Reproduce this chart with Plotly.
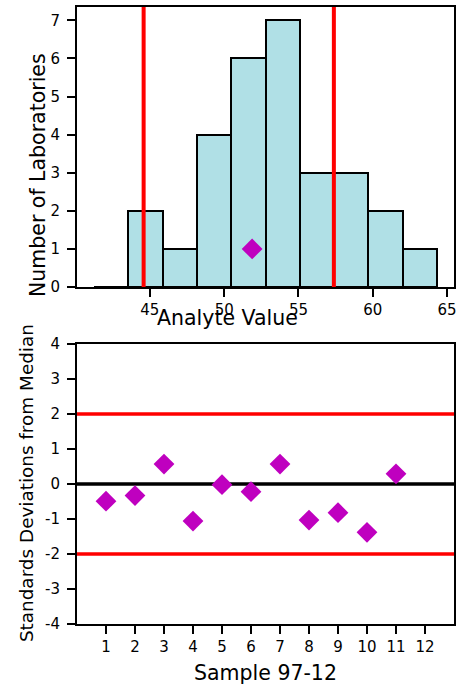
import plotly.graph_objects as go

# ---- data ----
bin_edges = [41.25, 43.56, 45.86, 48.17, 50.47, 52.78, 55.09, 57.39, 59.70, 62.00, 64.31]
lab_counts = [0, 2, 1, 4, 6, 7, 3, 3, 2, 1]
limit_lines = [44.58, 57.38]
lab_value = 51.88
lab_value_count = 1
hist_xticks = [45, 50, 55, 60, 65]
hist_yticks = [0, 1, 2, 3, 4, 5, 6, 7]

samples = [1, 2, 3, 4, 5, 6, 7, 8, 9, 10, 11]
sd_from_median = [-0.49, -0.33, 0.57, -1.06, -0.02, -0.22, 0.57, -1.03, -0.82, -1.38, 0.29]
control_limits = [-2, 2]
center_line = 0
sample_xticks = [1, 2, 3, 4, 5, 6, 7, 8, 9, 10, 11, 12]
sd_yticks = [-4, -3, -2, -1, 0, 1, 2, 3, 4]
sd_yticklabels = ["-4", "-3", "-2", "-1", "0", "1", "2", "3", "4"]

FONT = "DejaVu Sans"
MAGENTA = "#bf00bf"

centers = [(a + b) / 2 for a, b in zip(bin_edges[:-1], bin_edges[1:])]
widths = [b - a for a, b in zip(bin_edges[:-1], bin_edges[1:])]
span = bin_edges[-1] - bin_edges[0]
hist_range = [bin_edges[0] - 0.05 * span, bin_edges[-1] + 0.05 * span]

fig = go.Figure()
fig.add_trace(go.Bar(
    x=centers, y=lab_counts, width=widths,
    marker=dict(color="#b0e0e6", line=dict(color="black", width=2)),
    xaxis="x", yaxis="y", showlegend=False, hoverinfo="x+y",
))
fig.add_trace(go.Scatter(
    x=[lab_value], y=[lab_value_count], mode="markers",
    marker=dict(symbol="diamond", size=16, color=MAGENTA),
    xaxis="x", yaxis="y", showlegend=False,
))
fig.add_trace(go.Scatter(
    x=samples, y=sd_from_median, mode="markers",
    marker=dict(symbol="diamond", size=16, color=MAGENTA),
    xaxis="x2", yaxis="y2", showlegend=False,
))

shapes = []
for v in limit_lines:
    shapes.append(dict(type="line", xref="x", yref="y domain", x0=v, x1=v, y0=0, y1=1,
                       line=dict(color="#ff0000", width=4), layer="above"))
for v in control_limits:
    shapes.append(dict(type="line", xref="x2 domain", yref="y2", x0=0, x1=1, y0=v, y1=v,
                       line=dict(color="#ff0000", width=3.3), layer="below"))
shapes.append(dict(type="line", xref="x2 domain", yref="y2", x0=0, x1=1, y0=center_line, y1=center_line,
                   line=dict(color="black", width=3.3), layer="below"))

axis_common = dict(
    showgrid=False, zeroline=False, showline=True, linecolor="black", linewidth=2,
    mirror=True, ticks="outside", ticklen=8, tickwidth=1.5, tickcolor="black",
    tickfont=dict(family=FONT, size=15, color="black"), automargin=False,
)

TF = dict(family=FONT, size=20.5, color="black")
annotations = [
    dict(text="Number of Laboratories", xref="paper", yref="paper",
         x=-0.1034, y=0.7277, textangle=-90, showarrow=False, font=TF,
         xanchor="center", yanchor="middle"),
    dict(text="Analyte Value", xref="paper", yref="paper",
         x=0.4005, y=0.496, showarrow=False, font=TF,
         xanchor="center", yanchor="middle"),
    dict(text="Standards Deviations from Median", xref="paper", yref="paper",
         x=-0.135, y=0.2285, textangle=-90, showarrow=False,
         font=dict(family=FONT, size=18.4, color="black"),
         xanchor="center", yanchor="middle"),
    dict(text="Sample 97-12", xref="paper", yref="paper",
         x=0.4987, y=-0.0794, showarrow=False, font=TF,
         xanchor="center", yanchor="middle"),
]

fig.update_layout(
    width=459, height=689,
    margin=dict(l=77, r=5, t=7, b=65, pad=0, autoexpand=False),
    paper_bgcolor="white", plot_bgcolor="white",
    font=dict(family=FONT, color="black"),
    bargap=0,
    xaxis=dict(axis_common, domain=[0, 1], anchor="y", range=hist_range,
               tickvals=hist_xticks),
    yaxis=dict(axis_common, domain=[0.5462, 1], anchor="x", range=[0, 7.35],
               tickvals=hist_yticks, ticklabelstandoff=4),
    xaxis2=dict(axis_common, domain=[0, 1], anchor="y2", range=[0, 13],
                tickvals=sample_xticks),
    yaxis2=dict(axis_common, domain=[0, 0.4538], anchor="x2", range=[-4, 4],
                tickvals=sd_yticks, ticktext=sd_yticklabels, ticklabelstandoff=4),
    shapes=shapes,
    annotations=annotations,
)

fig.write_html("out.html", config={"displayModeBar": False},
               post_script="document.body.style.margin='0';")
